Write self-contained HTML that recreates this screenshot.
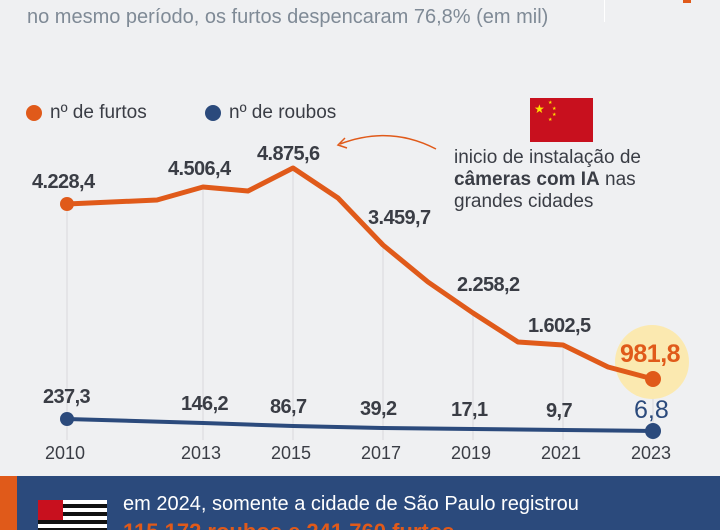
<!DOCTYPE html>
<html><head><meta charset="utf-8"><style>
html,body{margin:0;width:720px;height:530px;overflow:hidden}
body{background:#eff0f2;font-family:"Liberation Sans",sans-serif;position:relative}
.t{position:absolute;white-space:nowrap}
.v{font-weight:bold;color:#3a3d45;font-size:20px;letter-spacing:-0.6px}
.y{color:#3a3d45;font-size:18px}
</style></head><body>
<div class="t" style="left:27px;top:6px;font-size:20px;color:#7f8a96">no mesmo período, os furtos despencaram 76,8% (em mil)</div>
<div style="position:absolute;left:604px;top:0;width:1px;height:22px;background:#fff"></div>
<div style="position:absolute;left:683px;top:0;width:8px;height:3px;background:#e05a1a"></div>
<svg width="720" height="530" style="position:absolute;left:0;top:0">
<g stroke="#d8d9dc" stroke-width="1">
<line x1="67" y1="205" x2="67" y2="440"/><line x1="203" y1="190" x2="203" y2="440"/><line x1="293" y1="170" x2="293" y2="440"/><line x1="383" y1="245" x2="383" y2="440"/><line x1="473" y1="313" x2="473" y2="440"/><line x1="563" y1="345" x2="563" y2="440"/><line x1="653" y1="380" x2="653" y2="440"/>
</g>
<circle cx="652" cy="362" r="37" fill="#fbe9b0"/>
<polyline fill="none" stroke="#e05a1a" stroke-width="5" stroke-linejoin="round" points="67,204 157,200 203,187 248,191 293,168 338,198 383,245 428,282 473,313 518,342 563,345 608,367 653,379"/>
<circle cx="67" cy="204" r="7" fill="#e05a1a"/>
<circle cx="653" cy="379" r="8" fill="#e05a1a"/>
<polyline fill="none" stroke="#2b4a7c" stroke-width="4" points="67,419 203,423 293,426 383,428 473,429 563,430 653,431"/>
<circle cx="67" cy="419" r="7" fill="#2b4a7c"/>
<circle cx="653" cy="431" r="8" fill="#2b4a7c"/>
<circle cx="34" cy="113" r="8" fill="#e05a1a"/>
<circle cx="213" cy="113" r="8" fill="#2b4a7c"/>
<path d="M436,149 Q390,125 340,144" fill="none" stroke="#e05a1a" stroke-width="1.5"/>
<path d="M345,138 L338,145 L347,148" fill="none" stroke="#e05a1a" stroke-width="1.5"/>
<rect x="530" y="98" width="63" height="44" fill="#c8101e"/>
<text x="534" y="113" fill="#ffde00" font-size="12">★</text>
<text x="548" y="104" fill="#ffde00" font-size="5">★</text><text x="552" y="110" fill="#ffde00" font-size="5">★</text><text x="552" y="116" fill="#ffde00" font-size="5">★</text><text x="548" y="121" fill="#ffde00" font-size="5">★</text>
</svg>
<div class="t" style="left:50px;top:102px;font-size:19px;color:#3a3d45">nº de furtos</div>
<div class="t" style="left:229px;top:102px;font-size:19px;color:#3a3d45">nº de roubos</div>
<div class="t" style="left:454px;top:147px;font-size:19px;color:#3a3d45;line-height:22px">inicio de instalação de<br><b>câmeras com IA</b> nas<br>grandes cidades</div>
<div class="t v" style="left:32px;top:171px">4.228,4</div>
<div class="t v" style="left:168px;top:158px">4.506,4</div>
<div class="t v" style="left:257px;top:143px">4.875,6</div>
<div class="t v" style="left:368px;top:207px">3.459,7</div>
<div class="t v" style="left:457px;top:274px">2.258,2</div>
<div class="t v" style="left:528px;top:315px">1.602,5</div>
<div class="t" style="left:620px;top:340px;font-size:25px;font-weight:bold;color:#e05a1a;letter-spacing:-0.5px">981,8</div>
<div class="t v" style="left:43px;top:386px">237,3</div>
<div class="t v" style="left:181px;top:393px">146,2</div>
<div class="t v" style="left:270px;top:396px">86,7</div>
<div class="t v" style="left:360px;top:398px">39,2</div>
<div class="t v" style="left:451px;top:399px">17,1</div>
<div class="t v" style="left:546px;top:400px">9,7</div>
<div class="t" style="left:634px;top:396px;font-size:25px;color:#2b4a7c">6,8</div>
<div class="t y" style="left:45px;top:443px">2010</div>
<div class="t y" style="left:181px;top:443px">2013</div>
<div class="t y" style="left:271px;top:443px">2015</div>
<div class="t y" style="left:361px;top:443px">2017</div>
<div class="t y" style="left:451px;top:443px">2019</div>
<div class="t y" style="left:541px;top:443px">2021</div>
<div class="t y" style="left:631px;top:443px">2023</div>
<div style="position:absolute;left:0;top:476px;width:720px;height:54px;background:#2b4a7c"></div>
<div style="position:absolute;left:0;top:476px;width:17px;height:54px;background:#e05a1a"></div>
<div style="position:absolute;left:38px;top:500px;width:69px;height:30px;background:repeating-linear-gradient(#fff 0 4px,#111 4px 8px)"></div>
<div style="position:absolute;left:38px;top:500px;width:25px;height:20px;background:#c8101e"></div>
<div class="t" style="left:123px;top:493px;font-size:20px;color:#fff">em 2024, somente a cidade de São Paulo registrou</div>
<div class="t" style="left:123px;top:519px;font-size:22px;font-weight:bold;color:#e05a1a">115.172 roubos e 241.760 furtos</div>
</body></html>
